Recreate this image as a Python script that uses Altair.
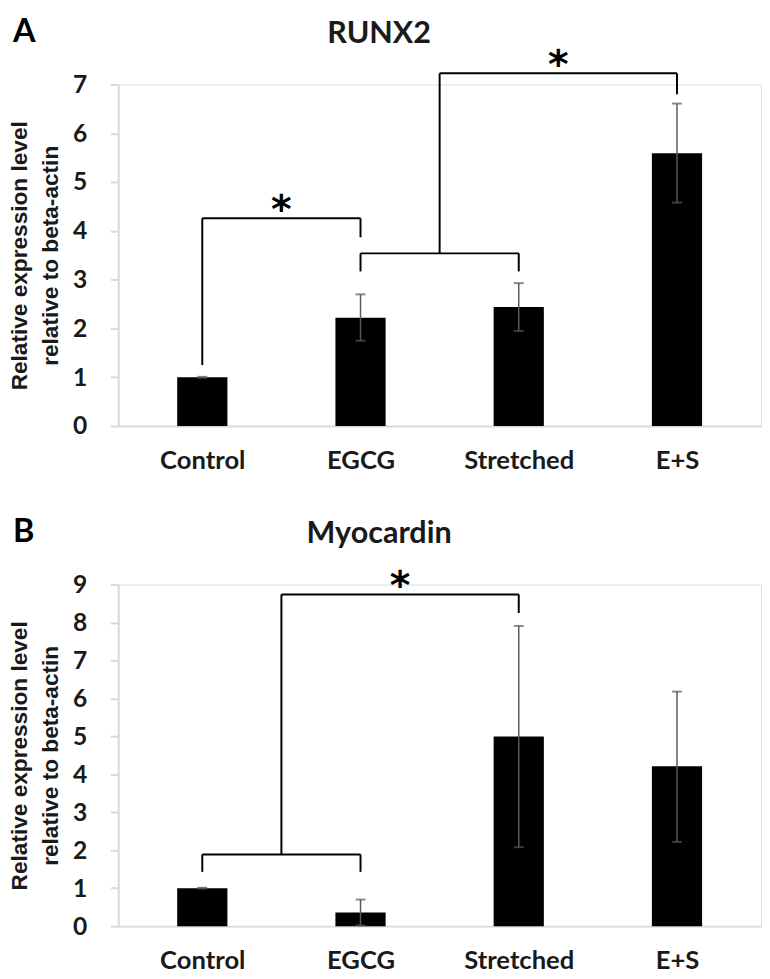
import altair as alt
import pandas as pd

categories = ["Control", "EGCG", "Stretched", "E+S"]

runx2_mean = [1.00, 2.22, 2.44, 5.59]
runx2_low = [0.99, 1.75, 1.95, 4.58]
runx2_high = [1.01, 2.70, 2.93, 6.61]

myocardin_mean = [1.00, 0.36, 5.00, 4.21]
myocardin_low = [0.99, 0.02, 2.08, 2.22]
myocardin_high = [1.01, 0.70, 7.91, 6.18]

# significance brackets (category index / value units)
runx2_bracket_x = [0, 0, 1, 1, 1, 2, 1.5, 1.5, 3]
runx2_bracket_x2 = [0, 1, 1, 1, 2, 2, 1.5, 3, 3]
runx2_bracket_y = [1.25, 4.26, 3.87, 3.17, 3.54, 3.17, 3.54, 7.23, 6.80]
runx2_bracket_y2 = [4.26, 4.26, 4.26, 3.54, 3.54, 3.54, 7.23, 7.23, 7.23]
runx2_star_x = [0.5, 2.25]
runx2_star_y = [4.26, 7.23]

myo_bracket_x = [0, 0, 1, 0.5, 0.5, 2]
myo_bracket_x2 = [0, 1, 1, 0.5, 2, 2]
myo_bracket_y = [1.43, 1.89, 1.43, 1.89, 8.74, 8.25]
myo_bracket_y2 = [1.89, 1.89, 1.89, 8.74, 8.74, 8.74]
myo_star_x = [1.25]
myo_star_y = [8.74]

W, H = 653, 347
LABEL_FONT = "Lato"
label_expr = "[" + ",".join("'" + c + "'" for c in categories) + "][datum.value]"


def panel(mean, low, high, ymax, bx, bx2, by, by2, sx, sy, title, letter):
    df = pd.DataFrame({"i": list(range(len(categories))), "mean": mean,
                       "low": low, "high": high})
    xs = alt.Scale(domain=[-0.5, len(categories) - 0.5], nice=False, zero=False)
    ys = alt.Scale(domain=[0, ymax], nice=False)
    xaxis = alt.Axis(values=list(range(len(categories))), labelExpr=label_expr,
                     title=None, ticks=False, grid=False, domainColor="#d9d9d9",
                     domainWidth=2, labelFont=LABEL_FONT, labelFontWeight="bold",
                     labelFontSize=26, labelColor="#1a1a1a", labelPadding=22)
    yaxis = alt.Axis(values=list(range(ymax + 1)), title=["Relative expression level",
                     "relative to beta-actin"], ticks=True, tickColor="#d9d9d9",
                     tickSize=8, tickWidth=2, grid=False,
                     domainColor="#d9d9d9", domainWidth=2, labelFont=LABEL_FONT,
                     labelFontWeight="bold", labelFontSize=25, labelColor="#1a1a1a",
                     labelPadding=24, titleFont="Liberation Sans", titleFontWeight="bold",
                     titleFontSize=23, titleColor="#1a1a1a", titleLineHeight=31,
                     titleX=-93, titleBaseline="alphabetic")

    def X(f):
        return alt.X(f, type="quantitative", scale=xs, axis=xaxis)

    def Y(f):
        return alt.Y(f, type="quantitative", scale=ys, axis=yaxis)

    base = alt.Chart(df)
    bars = base.mark_bar(size=51, color="black").encode(x=X("i"), y=Y("mean"))
    err = base.mark_rule(color="#595959", strokeWidth=1.5).encode(
        x=X("i"), y=Y("low"), y2="high")
    cap_hi = base.mark_tick(orient="horizontal", size=10, thickness=2,
                            color="#595959").encode(x=X("i"), y=Y("high"))
    cap_lo = base.mark_tick(orient="horizontal", size=10, thickness=2,
                            color="#595959").encode(x=X("i"), y=Y("low"))

    bdf = pd.DataFrame({"bx": bx, "bx2": bx2, "by": by, "by2": by2})
    brackets = alt.Chart(bdf).mark_rule(color="black", strokeWidth=2).encode(
        x=X("bx"), x2="bx2", y=Y("by"), y2="by2")

    sdf = pd.DataFrame({"sx": sx, "sy": sy})
    stars = alt.Chart(sdf).mark_text(text="*", font="DejaVu Sans", fontWeight="bold",
                                     fontSize=40, baseline="alphabetic", dy=5,
                                     color="black").encode(x=X("sx"), y=Y("sy"))

    tdf = pd.DataFrame({"t": [title], "l": [letter]})
    title_mark = alt.Chart(tdf).mark_text(font=LABEL_FONT, fontWeight="bold", fontSize=31,
                                          baseline="alphabetic", align="center",
                                          color="#1a1a1a").encode(
        x=alt.value(265), y=alt.value(-42), text="t:N")
    letter_mark = alt.Chart(tdf).mark_text(font=LABEL_FONT, fontWeight="bold", fontSize=33,
                                           baseline="alphabetic", align="left",
                                           color="black").encode(
        x=alt.value(-107), y=alt.value(-43), text="l:N")

    return alt.layer(bars, err, cap_hi, cap_lo, brackets, stars, title_mark,
                     letter_mark).properties(width=W, height=H)


panel_a = panel(runx2_mean, runx2_low, runx2_high, 7, runx2_bracket_x, runx2_bracket_x2,
                runx2_bracket_y, runx2_bracket_y2, runx2_star_x, runx2_star_y,
                "RUNX2", "A")
panel_b = panel(myocardin_mean, myocardin_low, myocardin_high, 9, myo_bracket_x,
                myo_bracket_x2, myo_bracket_y, myo_bracket_y2, myo_star_x, myo_star_y,
                "Myocardin", "B")

chart = alt.vconcat(panel_a, panel_b, spacing=161, bounds="flush").properties(
    padding={"left": 0, "top": 0, "right": 0, "bottom": 0}
).configure_view(stroke=None).configure(background="white")

chart.save("out.html", embed_options={"renderer": "svg", "actions": False})
